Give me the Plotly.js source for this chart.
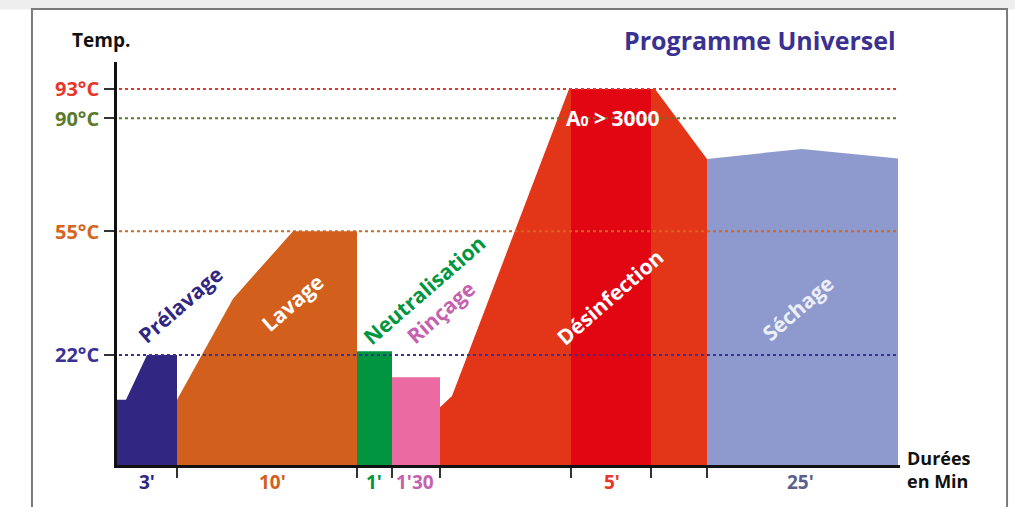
<!DOCTYPE html>
<html>
<head>
<meta charset="utf-8">
<script src="https://cdn.plot.ly/plotly-3.0.1.min.js"></script>
<style>html,body{margin:0;padding:0;background:#fff;}#chart{width:1015px;height:507px;}</style>
</head>
<body>
<div id="chart"></div>
<script>
// ---- Data (schematic time units along x, temperatures in °C) ----
const phaseNames   = ["Prélavage", "Lavage", "Neutralisation", "Rinçage", "Désinfection", "Séchage"];
const prelavageX   = [0, 9, 30, 60];
const prelavageT   = [10, 10, 22, 22];
const lavageX      = [60, 116, 176, 240];
const lavageT      = [10, 37, 55, 55];
const neutralX     = [240, 275];
const neutralT     = [23, 23];
const rincageX     = [275, 323];
const rincageT     = [16, 16];
const desinfX      = [323, 335, 452, 538, 590];
const desinfT      = [8, 11, 93, 93, 77.4];
const holdX        = [454, 534];
const holdT        = [93, 93];
const sechageX     = [590, 685, 781];
const sechageT     = [77.4, 80.5, 77.5];
const refTemps     = [93, 90, 55, 22];
const refLabels    = ["93°C", "90°C", "55°C", "22°C"];
const boundaries   = [60, 240, 275, 323, 454, 534, 590];
const durationLabels = ["3'", "10'", "1'", "1'30", "5'", "25'"];
const durationX    = [30, 155, 257, 298, 495, 683];

// ---- Schematic (non-linear) temperature scale ----
const TEMP_ANCHORS = [-7.4, 55, 90, 93];
const AXIS_ANCHORS = [0, 62.4, 92.6, 100.4];
function toY(t) {
  for (let i = 0; i < TEMP_ANCHORS.length - 1; i++) {
    const a = TEMP_ANCHORS[i], b = TEMP_ANCHORS[i + 1];
    if (t <= b || i === TEMP_ANCHORS.length - 2) {
      return AXIS_ANCHORS[i] + (t - a) * (AXIS_ANCHORS[i + 1] - AXIS_ANCHORS[i]) / (b - a);
    }
  }
}
const Y_MIN = 0, Y_MAX = 107.6, X_MAX = 783;

function area(xs, ts, color) {
  const x = [xs[0]].concat(xs, [xs[xs.length - 1]]);
  const y = [Y_MIN].concat(ts.map(toY), [Y_MIN]);
  return {x: x, y: y, type: "scatter", mode: "lines", fill: "toself",
          fillcolor: color, line: {width: 0, color: color}, hoverinfo: "skip", showlegend: false};
}

const traces = [
  area(prelavageX, prelavageT, "#312783"),
  area(lavageX, lavageT, "#d35f1d"),
  area(neutralX, neutralT, "#009640"),
  area(rincageX, rincageT, "#ea6aa1"),
  area(desinfX, desinfT, "#e33517"),
  area(holdX, holdT, "#e20613"),
  area(sechageX, sechageT, "#8e9acd")
];

const refColors = ["#e8372a", "#5b7a2b", "#d4661f", "#3b3192"];
const shapes = [
  {type: "rect", xref: "paper", yref: "paper", x0: -0.19, x1: 1.25, y0: 1.13, y1: 1.2,
   fillcolor: "#eeeeee", line: {width: 0}, layer: "below"},
  {type: "rect", xref: "paper", yref: "paper", x0: -0.1086, x1: 1.1367, y0: -0.2, y1: 1.1315,
   fillcolor: "rgba(0,0,0,0)", line: {color: "#7a7a7a", width: 2}}
];
refTemps.forEach((t, i) => {
  shapes.push({type: "line", xref: "x", yref: "y", x0: 2, x1: 781, y0: toY(t), y1: toY(t),
               line: {color: refColors[i], width: 2, dash: "dot"}, layer: "above"});
});

const FONT = "Open Sans, Lato, DejaVu Sans, sans-serif";
const annotations = [];
refTemps.forEach((t, i) => {
  annotations.push({xref: "paper", yref: "y", x: -0.02, y: toY(t), xanchor: "right", yanchor: "middle",
    text: "<b>" + refLabels[i] + "</b>", showarrow: false, font: {family: FONT, size: 20, color: refColors[i]}});
});
const durColors = ["#312783", "#d35f1d", "#009640", "#c561ae", "#e8372a", "#5a5f8d"];
durationLabels.forEach((s, i) => {
  annotations.push({xref: "x", yref: "paper", x: durationX[i], y: -0.042, xanchor: "center", yanchor: "middle",
    text: "<b>" + s + "</b>", showarrow: false, font: {family: FONT, size: 19, color: durColors[i]}});
});
// phase labels
const phaseLabelX = [63, 175, 307, 324, 493, 681];
const phaseLabelT = [35.3, 35.8, 39.3, 33.4, 37.4, 34.5];
const phaseLabelColors = ["#312783", "#ffffff", "#009640", "#c561ae", "#ffffff", "#eceef8"];
phaseNames.forEach((s, i) => {
  annotations.push({xref: "x", yref: "y", x: phaseLabelX[i], y: toY(phaseLabelT[i]), textangle: -41,
    xanchor: "center", yanchor: "middle",
    text: "<b>" + s + "</b>", showarrow: false, font: {family: FONT, size: 21, color: phaseLabelColors[i]}});
});
annotations.push({xref: "x", yref: "y", x: 495, y: toY(90), xanchor: "center", yanchor: "middle",
  text: "<b>A<span style='font-size:14px'>0</span> > 3000</b>",
  showarrow: false, font: {family: FONT, size: 21, color: "#ffffff"}});
annotations.push({xref: "paper", yref: "paper", x: -0.021, y: 1.055, xanchor: "center", yanchor: "middle",
  text: "<b>Temp.</b>", showarrow: false, font: {family: FONT, size: 19, color: "#111111"}});
annotations.push({xref: "paper", yref: "paper", x: 0.998, y: 1.055, xanchor: "right", yanchor: "middle",
  text: "<b>Programme Universel</b>", showarrow: false, font: {family: FONT, size: 25, color: "#3a3190"}});
annotations.push({xref: "paper", yref: "paper", x: 1.006, y: -0.012, xanchor: "left", yanchor: "middle", align: "left",
  text: "<b>Durées<br>en Min</b>", showarrow: false, font: {family: FONT, size: 18, color: "#111111"}});

const layout = {
  width: 1015, height: 507,
  margin: {l: 117, r: 115, t: 62, b: 42, pad: 0},
  paper_bgcolor: "#ffffff", plot_bgcolor: "#ffffff",
  showlegend: false,
  xaxis: {range: [0, X_MAX], showgrid: false, zeroline: false, showline: true, linecolor: "#111", linewidth: 3,
          tickmode: "array", tickvals: boundaries, showticklabels: false, ticks: "outside",
          ticklen: 10, tickwidth: 2, tickcolor: "#333", fixedrange: true},
  yaxis: {range: [Y_MIN, Y_MAX], showgrid: false, zeroline: false, showline: true, linecolor: "#111", linewidth: 3,
          tickmode: "array", tickvals: refTemps.map(toY), showticklabels: false, ticks: "outside",
          ticklen: 10, tickwidth: 2, tickcolor: "#333", fixedrange: true},
  shapes: shapes,
  annotations: annotations
};

Plotly.newPlot("chart", traces, layout, {displayModeBar: false, staticPlot: true});
</script>
</body>
</html>
